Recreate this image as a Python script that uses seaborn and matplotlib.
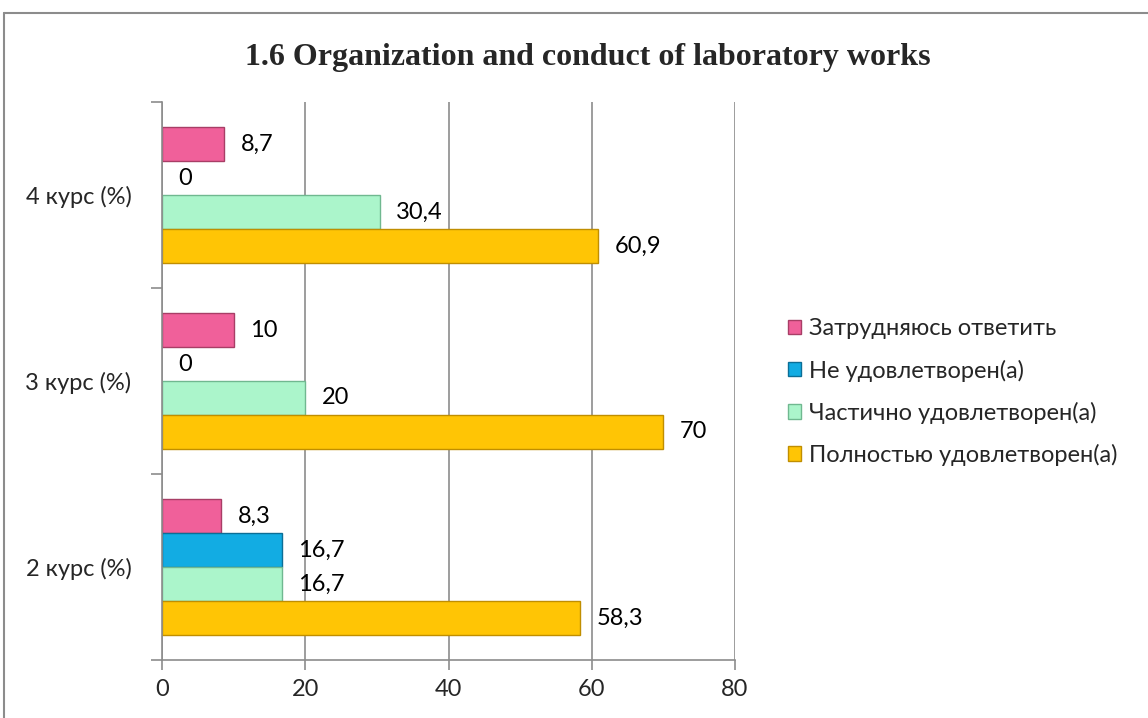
import matplotlib
matplotlib.use("Agg")
import matplotlib.pyplot as plt
from matplotlib.lines import Line2D
from matplotlib.ticker import FixedLocator
import seaborn as sns
import pandas as pd

courses = ['4 курс (%)', '3 курс (%)', '2 курс (%)']
series = ['Затрудняюсь ответить', 'Не удовлетворен(а)',
          'Частично удовлетворен(а)', 'Полностью удовлетворен(а)']
zatrud = [8.7, 10, 8.3]
ne_udov = [0, 0, 16.7]
chast = [30.4, 20, 16.7]
poln = [60.9, 70, 58.3]
x_ticks = [0, 20, 40, 60, 80]

colors = ['#F0609A', '#12ACE3', '#ABF5CB', '#FFC505']
edges = ['#A83E66', '#0C6E96', '#70B890', '#C08E00']

rows = []
for name, vals in zip(series, [zatrud, ne_udov, chast, poln]):
    for c, v in zip(courses, vals):
        rows.append({'course': c, 'series': name, 'value': v})
df = pd.DataFrame(rows)

sns.set_theme(style='white')
plt.rcParams['font.family'] = ['Lato', 'DejaVu Sans']

fig = plt.figure(figsize=(11.48, 7.18), dpi=100)
ax = fig.add_axes([162/1148, 1-660/718, (735-162)/1148, (660-102)/718])

sns.barplot(data=df, y='course', x='value', hue='series', order=courses,
            hue_order=series, palette=colors, orient='h', width=0.73,
            gap=0, ax=ax, legend=False, errorbar=None, linewidth=1,
            saturation=1)

for cont, ec in zip(ax.containers, edges):
    for bar, v in zip(cont, cont.datavalues):
        if v == 0:
            bar.set_edgecolor('none')
            bar.set_linewidth(0)
        else:
            bar.set_edgecolor(ec)
    labels = []
    for v in cont.datavalues:
        if float(v).is_integer():
            labels.append(str(int(v)))
        else:
            labels.append(f'{v:.1f}'.replace('.', ','))
    ax.bar_label(cont, labels=labels, padding=12, fontsize=17, color='black')

ax.set_xlim(0, 80)
ax.set_ylim(2.5, -0.5)
ax.set_xticks(x_ticks)
ax.set_xticklabels([str(t) for t in x_ticks])
ax.set_xlabel('')
ax.set_ylabel('')
ax.xaxis.grid(True, color='#8c8c8c', linewidth=1.2)
ax.yaxis.grid(False)
ax.set_axisbelow(True)

for s in ['top', 'right']:
    ax.spines[s].set_visible(False)
for s in ['left', 'bottom']:
    ax.spines[s].set_color('#8c8c8c')
    ax.spines[s].set_linewidth(1.2)

ax.tick_params(axis='x', which='major', length=7, width=1.2, color='#8c8c8c',
               direction='out', labelsize=17, pad=7, bottom=True)
ax.tick_params(axis='y', which='major', length=0, labelsize=17, pad=22)
ax.yaxis.set_minor_locator(FixedLocator([-0.5, 0.5, 1.5, 2.5]))
ax.tick_params(axis='y', which='minor', length=8, width=1.2, color='#8c8c8c',
               direction='out', left=True)

handles = [plt.Rectangle((0, 0), 1, 1, facecolor=c, edgecolor=e, linewidth=1)
           for c, e in zip(colors, edges)]
fig.legend(handles, series, loc='upper left', bbox_to_anchor=(779/1148, 1-309/718),
           frameon=False, fontsize=17, handlelength=0.55, handleheight=0.55,
           handletextpad=0.3, labelspacing=0.85, borderaxespad=0)

fig.text(588/1148, 1-57/718, '1.6 Organization and conduct of laboratory works',
         ha='center', va='center', fontsize=23, fontweight='bold',
         family='Liberation Serif')

fig.add_artist(Line2D([4/1148, 4/1148], [0, 1-13/718], transform=fig.transFigure,
                      color='#8c8c8c', linewidth=1.5))
fig.add_artist(Line2D([4/1148, 1], [1-13/718, 1-13/718], transform=fig.transFigure,
                      color='#8c8c8c', linewidth=1.5))

fig.savefig('out.png', dpi=100, facecolor='white')
